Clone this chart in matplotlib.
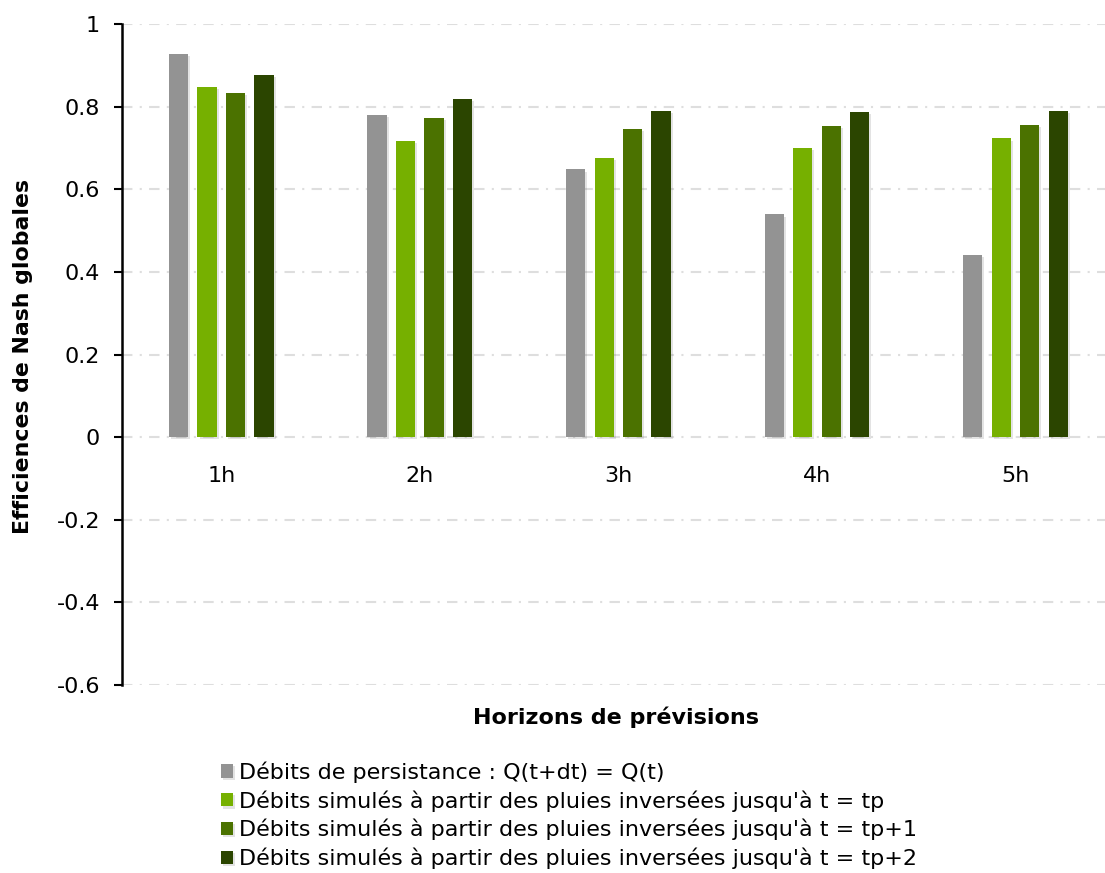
import matplotlib
matplotlib.use("Agg")
import matplotlib.pyplot as plt
import matplotlib.patheffects as pe
import numpy as np

# data
horizons = ["1h", "2h", "3h", "4h", "5h"]
persistance = [0.927, 0.780, 0.648, 0.539, 0.441]
pluies_tp = [0.847, 0.718, 0.676, 0.700, 0.723]
pluies_tp1 = [0.832, 0.772, 0.747, 0.753, 0.755]
pluies_tp2 = [0.877, 0.818, 0.789, 0.787, 0.789]
series_labels = [
    "Débits de persistance : Q(t+dt) = Q(t)",
    "Débits simulés à partir des pluies inversées jusqu'à t = tp",
    "Débits simulés à partir des pluies inversées jusqu'à t = tp+1",
    "Débits simulés à partir des pluies inversées jusqu'à t = tp+2",
]
y_ticks = [-0.6, -0.4, -0.2, 0, 0.2, 0.4, 0.6, 0.8, 1]

colors = ["#939393", "#76b000", "#4b7200", "#2b4500"]
plt.rcParams["font.family"] = ["DejaVu Sans"]

fig = plt.figure(figsize=(11.05, 8.73), dpi=100)
ax = fig.add_axes([0.1104, 0.2153, 0.894, 0.7572])

x = np.arange(len(horizons))
pitch = 0.1435
width = 0.0963
shadow = [pe.SimplePatchShadow(offset=(1.5, -1.5), alpha=0.15, shadow_rgbFace="#444444"), pe.Normal()]
for i, (vals, lab) in enumerate(zip([persistance, pluies_tp, pluies_tp1, pluies_tp2], series_labels)):
    bars = ax.bar(x + (i - 1.5) * pitch, vals, width, color=colors[i], label=lab, zorder=3)
    for b in bars:
        b.set_path_effects(shadow)

ax.set_xlim(-0.5, 4.476)
ax.set_ylim(-0.6, 1.0)
ax.set_yticks(y_ticks)
ax.set_yticklabels(["-0.6", "-0.4", "-0.2", "0", "0.2", "0.4", "0.6", "0.8", "1"])
ax.set_xticks(x)
ax.set_xticklabels(horizons)

ax.grid(axis="y", color="#dedede", linewidth=1.5, linestyle=(0, (5, 3.5, 1, 3.5)), zorder=0)
ax.grid(axis="x", visible=False)

for s in ["top", "right"]:
    ax.spines[s].set_visible(False)
ax.spines["bottom"].set_position(("data", 0))
ax.spines["bottom"].set_visible(False)
ax.spines["left"].set_linewidth(1.8)
ax.spines["left"].set_color("black")

ax.tick_params(axis="y", length=5.8, width=1.5, pad=10, labelsize=16)
ax.tick_params(axis="x", length=0, pad=20.5, labelsize=16)

fig.text(0.021, 0.592, "Efficiences de Nash globales", rotation=90, fontsize=15.8,
         fontweight="bold", ha="center", va="center")
fig.text(0.5575, 0.178, "Horizons de prévisions", fontsize=16, fontweight="bold",
         ha="center", va="center")

fig.legend(loc="upper left", bbox_to_anchor=(0.2, 0.128), frameon=False,
           fontsize=16, handlelength=0.55, handleheight=0.55, handletextpad=0.25,
           labelspacing=0.33, borderaxespad=0, borderpad=0)

fig.savefig("out.png", dpi=100)
